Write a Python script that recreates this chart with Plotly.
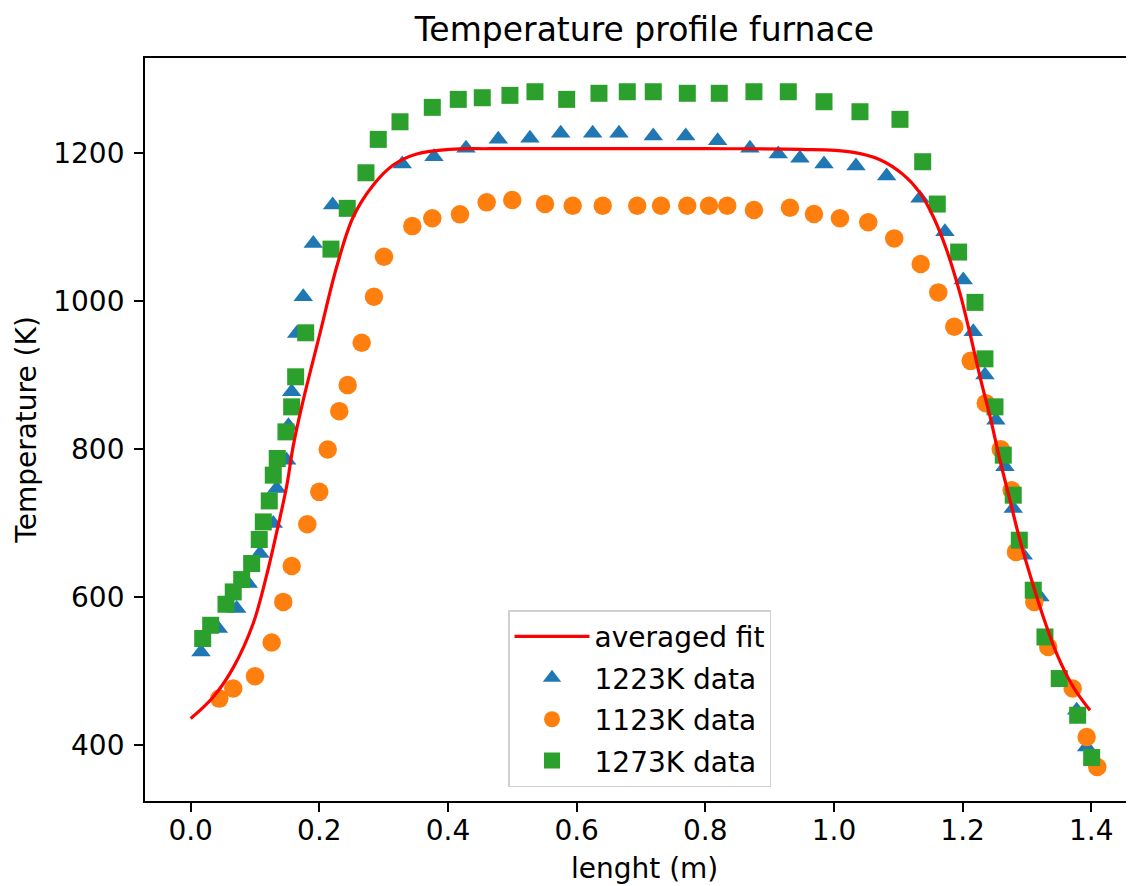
import plotly.graph_objects as go

# ---- data ----
fit_x = [0.0, 0.0351, 0.0662, 0.0973, 0.1181, 0.1337, 0.1492, 0.1595, 0.1750, 0.2010,
         0.2270, 0.2528, 0.2839, 0.3149, 0.3513, 0.4031, 0.4653, 0.6, 0.8, 0.95,
         1.0253, 1.0715, 1.1077, 1.1337, 1.1544, 1.1752, 1.1959, 1.2114, 1.2270,
         1.2425, 1.2580, 1.2736, 1.2891, 1.3073, 1.3254, 1.3462, 1.3720, 1.3980]
fit_y = [436.1, 465.3, 505.0, 565.0, 630.0, 688.0, 750.0, 805.0, 866.5, 956.6,
         1046.7, 1114.3, 1157.2, 1184.2, 1199.1, 1205.5, 1206.3, 1206.3, 1206.3, 1205.5,
         1202.0, 1191.5, 1171.3, 1146.6, 1114.3, 1069.3, 1010.7, 956.6, 898.0,
         844.8, 785.3, 731.3, 677.2, 623.1, 573.5, 524.0, 478.8, 447.3]

t1223_x = [0.0160, 0.0429, 0.0715, 0.0895, 0.1077, 0.1284, 0.1337, 0.1492, 0.1520, 0.1570,
           0.1648, 0.1750, 0.1906, 0.2207, 0.3289, 0.3782, 0.4280, 0.4782, 0.5274, 0.5752,
           0.6249, 0.6658, 0.7191, 0.7695, 0.8192, 0.8694, 0.9134, 0.9471, 0.9845, 1.0342,
           1.0819, 1.1337, 1.1725, 1.2010, 1.2165, 1.2347, 1.2518, 1.2658, 1.2787, 1.2943,
           1.3202, 1.3773, 1.3928]
t1223_y = [526.2, 557.8, 584.8, 618.6, 659.2, 699.8, 747.1, 785.3, 832.0, 877.7,
           956.6, 1006.2, 1078.3, 1130.1, 1185.6, 1195.4, 1206.8, 1219.0, 1220.3, 1227.1,
           1227.1, 1227.1, 1223.4, 1223.4, 1217.1, 1206.8, 1199.1, 1193.3, 1185.6, 1182.9,
           1169.4, 1139.2, 1094.0, 1028.7, 958.8, 900.3, 839.4, 776.3, 720.0, 656.9,
           600.5, 447.3, 397.7]

t1123_x = [0.0445, 0.0662, 0.1000, 0.1259, 0.1439, 0.1570, 0.1813, 0.1999, 0.2130, 0.2310,
           0.2441, 0.2658, 0.2849, 0.3005, 0.3445, 0.3756, 0.4186, 0.4601, 0.4999, 0.5508,
           0.5938, 0.6405, 0.6942, 0.7311, 0.7720, 0.8057, 0.8341, 0.8756, 0.9316, 0.9689,
           1.0093, 1.0533, 1.0937, 1.1348, 1.1621, 1.1870, 1.2125, 1.2360, 1.2593, 1.2762,
           1.2829, 1.3114, 1.3331, 1.3711, 1.3928, 1.4093]
t1123_y = [463.1, 476.7, 493.3, 538.9, 593.8, 642.4, 698.8, 742.5, 799.8, 851.6,
           886.8, 944.0, 1006.2, 1060.2, 1101.7, 1112.2, 1117.6, 1133.8, 1136.9, 1131.5,
           1129.2, 1129.2, 1129.2, 1129.2, 1129.2, 1129.2, 1129.2, 1123.4, 1126.5, 1118.0,
           1112.2, 1106.8, 1085.1, 1050.4, 1012.1, 965.6, 919.6, 862.4, 800.2, 744.8,
           661.4, 593.8, 532.9, 476.7, 411.2, 370.7]

t1273_x = [0.0187, 0.0311, 0.0549, 0.0662, 0.0793, 0.0948, 0.1066, 0.1129, 0.1222, 0.1284,
           0.1346, 0.1481, 0.1570, 0.1632, 0.1788, 0.2181, 0.2434, 0.2725, 0.2916, 0.3254,
           0.3756, 0.4160, 0.4533, 0.4963, 0.5352, 0.5845, 0.6347, 0.6787, 0.7191, 0.7720,
           0.8217, 0.8756, 0.9290, 0.9845, 1.0404, 1.1026, 1.1379, 1.1606, 1.1938, 1.2192,
           1.2347, 1.2503, 1.2632, 1.2787, 1.2881, 1.3098, 1.3280, 1.3502, 1.3788, 1.4006]
t1273_y = [544.3, 562.2, 590.6, 607.3, 624.0, 645.7, 678.1, 701.9, 730.3, 765.1,
           787.6, 823.6, 857.4, 898.0, 957.5, 1070.6, 1125.7, 1173.8, 1218.9, 1242.7,
           1262.2, 1273.0, 1275.2, 1278.4, 1283.3, 1273.0, 1281.2, 1283.3, 1283.3, 1281.2,
           1281.2, 1283.3, 1283.3, 1269.8, 1256.3, 1246.0, 1188.7, 1131.5, 1066.6, 998.6,
           922.3, 857.4, 792.1, 738.0, 677.2, 609.6, 546.4, 490.2, 440.6, 383.4]

x_ticks = [0.0, 0.2, 0.4, 0.6, 0.8, 1.0, 1.2, 1.4]
y_ticks = [400, 600, 800, 1000, 1200]

FONT = "DejaVu Sans"
FS = 28

# the page body has an 8px margin, so the figure is sized/positioned to compensate
W, H = 1126, 878
OFF = 8
L, T, B = 145 - OFF, 58 - OFF, 85.3
PW = W - L            # plot width in px
PH = H - T - B        # plot height in px

fig = go.Figure()
fig.add_trace(go.Scatter(x=t1223_x, y=t1223_y, mode="markers", name="1223K data",
                         legendrank=2, legendgroup="b",
                         marker=dict(symbol="triangle-up", size=17, color="#1f77b4", line=dict(width=0))))
fig.add_trace(go.Scatter(x=t1123_x, y=t1123_y, mode="markers", name="1123K data",
                         legendrank=3, legendgroup="o",
                         marker=dict(symbol="circle", size=18.5, color="#ff7f0e", line=dict(width=0))))
fig.add_trace(go.Scatter(x=t1273_x, y=t1273_y, mode="markers", name="1273K data",
                         legendrank=4, legendgroup="g",
                         marker=dict(symbol="square", size=17, color="#2ca02c", line=dict(width=0))))
fig.add_trace(go.Scatter(x=fit_x, y=fit_y, mode="lines", name="averaged fit",
                         legendrank=1, legendgroup="r",
                         line=dict(color="red", width=3.2, shape="spline", smoothing=1.0)))

fig.update_layout(
    width=W, height=H,
    margin=dict(l=L, r=0, t=T, b=B),
    paper_bgcolor="white", plot_bgcolor="white",
    font=dict(family=FONT, size=FS, color="black"),
    title=dict(text="Temperature profile furnace", x=(644.5 - OFF) / W, xref="container",
               xanchor="center", y=1 - (29 - OFF) / H, yref="container", yanchor="middle",
               font=dict(family=FONT, size=33, color="black")),
    xaxis=dict(range=[-0.0710, 1.4664], tickvals=x_ticks, tickformat=".1f",
               showgrid=False, zeroline=False, showline=True, linecolor="black", linewidth=1.8,
               mirror=True, ticks="outside", ticklen=9, tickwidth=1.6, tickcolor="black",
               ticklabelstandoff=-6,
               tickfont=dict(family=FONT, size=FS, color="black")),
    yaxis=dict(range=[324.7, 1328.9], tickvals=y_ticks,
               showgrid=False, zeroline=False, showline=True, linecolor="black", linewidth=1.8,
               mirror=False, ticks="outside", ticklen=9, tickwidth=1.6, tickcolor="black",
               ticklabelstandoff=4,
               tickfont=dict(family=FONT, size=FS, color="black")),
    legend=dict(x=(508 - 145) / PW, y=(800.7 - 610) / PH, xanchor="left", yanchor="top",
                bgcolor="rgba(255,255,255,0.8)", bordercolor="#d0d0d0", borderwidth=1.5,
                font=dict(family=FONT, size=FS, color="black"),
                traceorder="grouped", tracegroupgap=2, itemwidth=75),
    showlegend=True,
)

fig.add_annotation(text="lenght (m)", xref="paper", yref="paper",
                   x=(644 - 145) / PW, y=-(868 - 800.7) / PH,
                   xanchor="center", yanchor="middle", showarrow=False,
                   font=dict(family=FONT, size=FS, color="black"))
fig.add_annotation(text="Temperature (K)", xref="paper", yref="paper",
                   x=-(145 - 26.5) / PW, y=(800.7 - 430) / PH, textangle=-90,
                   xanchor="center", yanchor="middle", showarrow=False,
                   font=dict(family=FONT, size=FS, color="black"))

fig.write_html("out.html")
